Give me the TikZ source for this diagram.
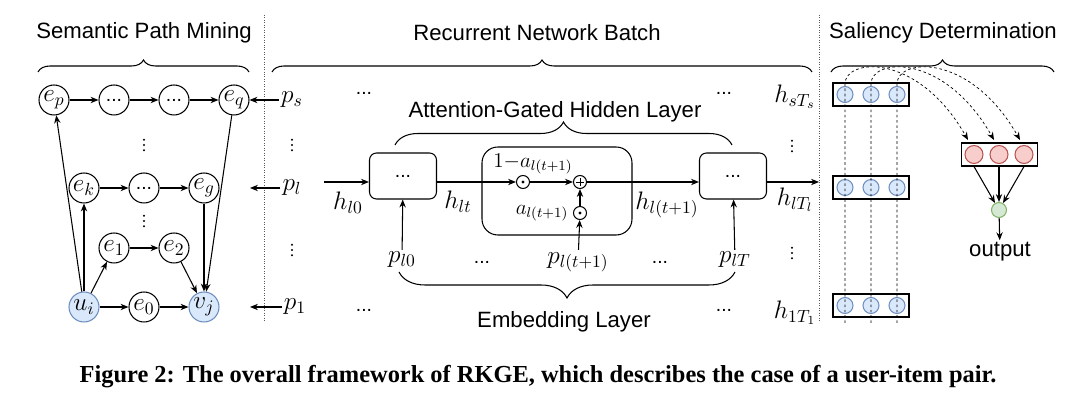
\documentclass[tikz,border=0pt]{standalone}
\usepackage{fontspec}
\usetikzlibrary{decorations.pathreplacing,arrows.meta}
\newfontfamily\helv{Liberation Sans}
\newfontfamily\capfont{Liberation Serif}
\newcommand{\mlab}{\fontsize{14}{16}\selectfont}
\newcommand{\vdd}[1]{\foreach \k in {-1,0,1} \fill ([yshift=\k*3pt]#1) circle (0.6pt);}
\definecolor{ufill}{HTML}{DAE8FC}
\definecolor{uline}{HTML}{6C8EBF}
\definecolor{rfill}{HTML}{F8CECC}
\definecolor{rline}{HTML}{B85450}
\definecolor{gfill}{HTML}{D5E8D4}
\definecolor{gline}{HTML}{82B366}
\begin{document}
\begin{tikzpicture}[x=0.02cm,y=-0.02cm,semithick,>={Stealth[length=4.5pt,width=3.6pt]},
  ent/.style={circle,draw,minimum size=0.6cm,inner sep=0pt,font=\mlab},
  usr/.style={ent,fill=ufill,draw=uline},
  lab/.style={font=\mlab,inner sep=1pt},
  sml/.style={font=\fontsize{12}{14}\selectfont,inner sep=1pt},
  ttl/.style={font=\helv\fontsize{12.6}{15}\selectfont},
  dts/.style={font=\helv\fontsize{11}{13}\selectfont,inner sep=0pt},
  cell/.style={draw,rounded corners=4pt,minimum width=1.34cm,minimum height=0.92cm,inner sep=0pt,font=\helv\fontsize{11}{13}\selectfont},
  gatebox/.style={draw,rounded corners=9pt,minimum width=3cm,minimum height=1.76cm},
  gate/.style={circle,draw,minimum size=0.26cm,inner sep=0pt},
  hbox/.style={draw,minimum width=1.52cm,minimum height=0.46cm,inner sep=0pt},
  hcirc/.style={circle,draw=uline,fill=ufill,minimum size=0.32cm,inner sep=0pt},
  rcirc/.style={circle,draw=rline,fill=rfill,minimum size=0.36cm,inner sep=0pt},
  sep/.style={densely dotted,thin,gray!70!black},
  hline/.style={dash pattern=on 1.5pt off 1.5pt,thin},
  brc/.style={decorate,decoration={brace,amplitude=#1}}]
\useasboundingbox (0,0) rectangle (1080,411);
% titles and braces
\node[ttl] (tsem) at (144,33) {Semantic Path Mining};
\node[ttl] (trec) at (537,33) {Recurrent Network Batch};
\node[ttl] (tsal) at (943,33) {Saliency Determination};
\draw[brc=0.24cm] (38,72) -- (249,72);
\draw[brc=0.24cm] (272,72) -- (812,72);
\draw[brc=0.24cm] (831,72) -- (1054,72);
\draw[sep] (264,15) -- (264,322);
\draw[sep] (819,15) -- (819,322);
% semantic paths
\node[ent] (ep) at (54,100) {$e_p$};
\node[ent,dts] (d1) at (114,100) {...};
\node[ent,dts] (d2) at (174,100) {...};
\node[ent] (eq) at (234,100) {$e_q$};
\node[ent] (ek) at (84,188) {$e_k$};
\node[ent,dts] (d3) at (144,188) {...};
\node[ent] (eg) at (204,188) {$e_g$};
\node[ent] (e1) at (114,248) {$e_1$};
\node[ent] (e2) at (174,248) {$e_2$};
\node[usr] (ui) at (84,307) {$u_i$};
\node[ent] (e0) at (144,307) {$e_0$};
\node[usr] (vj) at (204,307) {$v_j$};
\coordinate (v1) at (144,145);
\coordinate (v2) at (144,221);
\vdd{v1} \vdd{v2}
\draw[->] (ep) -- (d1);
\draw[->] (d1) -- (d2);
\draw[->] (d2) -- (eq);
\draw[->] (ek) -- (d3);
\draw[->] (d3) -- (eg);
\draw[->] (e1) -- (e2);
\draw[->] (ui) -- (e0);
\draw[->] (e0) -- (vj);
\draw[->] (ui) -- (ep);
\draw[->] (ui) -- (ek);
\draw[->] (ui) -- (e1);
\draw[->] (eq) -- (vj);
\draw[->] (eg) -- (vj);
\draw[->] (e2) -- (vj);
% path inputs
\node[lab] (ps) at (292,100) {$p_s$};
\node[lab] (pl) at (292,188) {$p_l$};
\node[lab] (p1) at (295,307) {$p_1$};
\coordinate (v3) at (292,145);
\coordinate (v4) at (292,250);
\vdd{v3} \vdd{v4}
\coordinate (plend) at (250,188);
\coordinate (p1end) at (250,307);
\draw[->] (ps) -- (eq);
\draw[->] (pl) -- (plend);
\draw[->] (p1) -- (p1end);
% recurrent network
\node[dts] (r1) at (364,93) {...};
\node[dts] (r2) at (724,93) {...};
\node[dts] (r3) at (364,310) {...};
\node[dts] (r4) at (724,310) {...};
\node[ttl] (tatt) at (555,112) {Attention-Gated Hidden Layer};
\draw[brc=0.46cm] (395,145) -- (732,145);
\node[cell] (c1) at (403,176) {...};
\node[cell] (c2) at (733,176) {...};
\node[gatebox] (gb) at (557,191) {};
\node[gate] (od1) at (523,182) {};
\node[gate] (op) at (580,182) {};
\node[gate] (od2) at (580,213) {};
\fill (od1) circle (0.9pt);
\fill (od2) circle (0.9pt);
\draw[thin] ([yshift=-2.4pt]op.center) -- ([yshift=2.4pt]op.center);
\draw[thin] ([xshift=-2.4pt]op.center) -- ([xshift=2.4pt]op.center);
\node[sml] (om) at (533,164) {$1{-}a_{l(t+1)}$};
\node[sml] (al) at (542,213) {$a_{l(t+1)}$};
\coordinate (hin) at (324,182);
\coordinate (hend) at (819,182);
\draw[->] (hin) -- (hin -| c1.west);
\draw[->] (c1.east |- od1) -- (od1);
\draw[->] (od1) -- (op);
\draw[->] (op) -- (op -| c2.west);
\draw[->] (c2.east |- op) -- (hend);
\draw[->] (od2) -- (op);
\node[lab] (hl0) at (348,203) {$h_{l0}$};
\node[lab] (hlt) at (458,202) {$h_{lt}$};
\node[lab] (hlt1) at (667,205) {$h_{l(t+1)}$};
\node[lab] (hsT) at (795,97) {$h_{sT_s}$};
\node[lab] (hlT) at (795,200) {$h_{lT_l}$};
\node[lab] (h1T) at (795,313) {$h_{1T_1}$};
\coordinate (v5) at (792,146);
\coordinate (v6) at (792,253);
\vdd{v5} \vdd{v6}
\node[lab] (pl0) at (402,260) {$p_{l0}$};
\node[lab] (plt1) at (578,262) {$p_{l(t+1)}$};
\node[lab] (plT) at (735,260) {$p_{lT}$};
\node[dts] (r5) at (482,262) {...};
\node[dts] (r6) at (660,262) {...};
\draw[->] (pl0) -- (c1);
\draw[->] (plt1) -- (od2);
\draw[->] (plT) -- (c2);
\draw[brc=0.52cm] (735,272) -- (399,272);
\node[ttl] (temb) at (564,322) {Embedding Layer};
% saliency
\foreach \r/\y in {s/94.5,l/187.5,1/305.5} {
  \node[hbox] (b\r) at (871,\y) {};
  \foreach \i/\x in {1/845,2/871,3/897}
    \node[hcirc] (b\r\i) at (\x,\y) {};
}
\node[hbox] (rb) at (999.5,154.5) {};
\foreach \i/\x in {1/974,2/999,3/1024}
  \node[rcirc] (rc\i) at (\x,154.5) {};
\node[circle,draw=gline,fill=gfill,minimum size=0.3cm,inner sep=0pt] (g) at (999,210) {};
\node[ttl,inner sep=1pt] (out) at (1000,252) {output};
\foreach \i/\x/\tx in {1/845/968,2/871/994,3/897/1020} {
  \coordinate (base\i) at (\x,323);
  \coordinate (tip\i) at (\tx,140);
  \draw[hline,->] (base\i) -- (\x,84) .. controls (\x,58) and (\tx-50,52) .. (tip\i);
  \draw[->] (rb.south -| rc\i) -- (g);
}
\draw[->] (g) -- (out);
% caption
\node[font=\capfont\bfseries\fontsize{13.9}{16}\selectfont] (cap) at (538,377) {Figure 2: The overall framework of RKGE, which describes the case of a user-item pair.};
\end{tikzpicture}
\end{document}
